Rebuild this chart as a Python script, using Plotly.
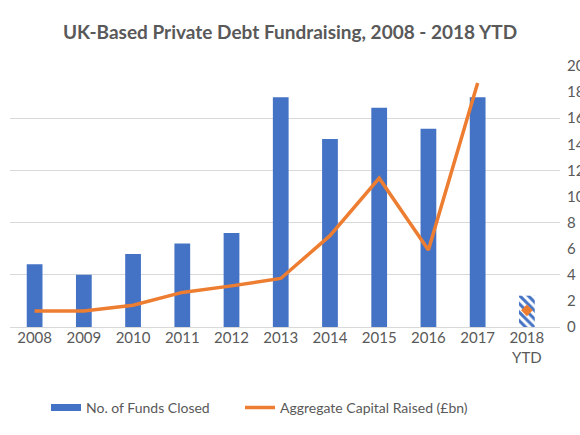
import plotly.graph_objects as go

years = ["2008", "2009", "2010", "2011", "2012", "2013", "2014", "2015", "2016", "2017", "2018<br>YTD"]
funds_closed = [12, 10, 14, 16, 18, 44, 36, 42, 38, 44, 6]
capital_raised = [1.23, 1.23, 1.67, 2.65, 3.15, 3.72, 7.0, 11.4, 5.9, 18.7, 1.28]

BLUE = "#4472C4"
ORANGE = "#ED7D31"
TXT = "#595959"
GRID = "#D9D9D9"

patterns = [""] * (len(years) - 1) + ["\\"]

fig = go.Figure()
fig.add_trace(go.Bar(
    x=years, y=funds_closed, name="No. of Funds Closed", showlegend=False,
    marker=dict(color=BLUE, line=dict(width=0),
                pattern=dict(shape=patterns, fgcolor=BLUE, bgcolor="white", size=6, solidity=0.5,
                             fillmode="replace")),
    width=0.32,
))
# legend swatch for the bars (wide rectangle, as in the original)
fig.add_trace(go.Scatter(
    x=[None], y=[None], name="No. of Funds Closed", mode="lines",
    line=dict(color=BLUE, width=7), legend="legend",
))
fig.add_trace(go.Scatter(
    x=years[:-1], y=capital_raised[:-1], name="Aggregate Capital Raised (£bn)",
    mode="lines", line=dict(color=ORANGE, width=3.5), yaxis="y2", legend="legend2",
))
fig.add_trace(go.Scatter(
    x=years[-1:], y=capital_raised[-1:], mode="markers", showlegend=False,
    marker=dict(symbol="diamond", color=ORANGE, size=9), yaxis="y2",
))

legend_common = dict(orientation="h", y=-0.31, yanchor="middle", xanchor="left",
                     font=dict(size=14, color=TXT), itemwidth=30, bgcolor="rgba(0,0,0,0)")

fig.update_layout(
    width=580, height=435,
    margin=dict(l=10, r=20, t=66, b=108, autoexpand=False),
    paper_bgcolor="white", plot_bgcolor="white",
    font=dict(family="Lato, Open Sans, sans-serif", size=14, color=TXT),
    title=dict(text="<b>UK-Based Private Debt Fundraising, 2008 - 2018 YTD</b>",
               x=0.5, xanchor="center", y=1 - 32 / 435, yanchor="middle",
               font=dict(size=19, color=TXT)),
    xaxis=dict(type="category", showgrid=False, showline=False, ticks="",
               tickfont=dict(size=15, color=TXT), automargin=False),
    yaxis=dict(range=[0, 50], dtick=10, showticklabels=False, showgrid=True,
               gridcolor=GRID, gridwidth=1, zeroline=True, zerolinecolor=GRID,
               zerolinewidth=1, showline=False, automargin=False),
    yaxis2=dict(range=[0, 20], dtick=2, overlaying="y", side="right", showgrid=False,
                zeroline=False, showline=False, ticks="", ticklabelstandoff=6,
                automargin=False, tickfont=dict(size=15, color=TXT)),
    legend=dict(x=(46 - 10) / 550, **legend_common),
    legend2=dict(x=(240 - 10) / 550, **legend_common),
    showlegend=True,
)

fig.write_html("out.html", config={"displayModeBar": False},
               post_script="document.body.style.margin='0px';")
